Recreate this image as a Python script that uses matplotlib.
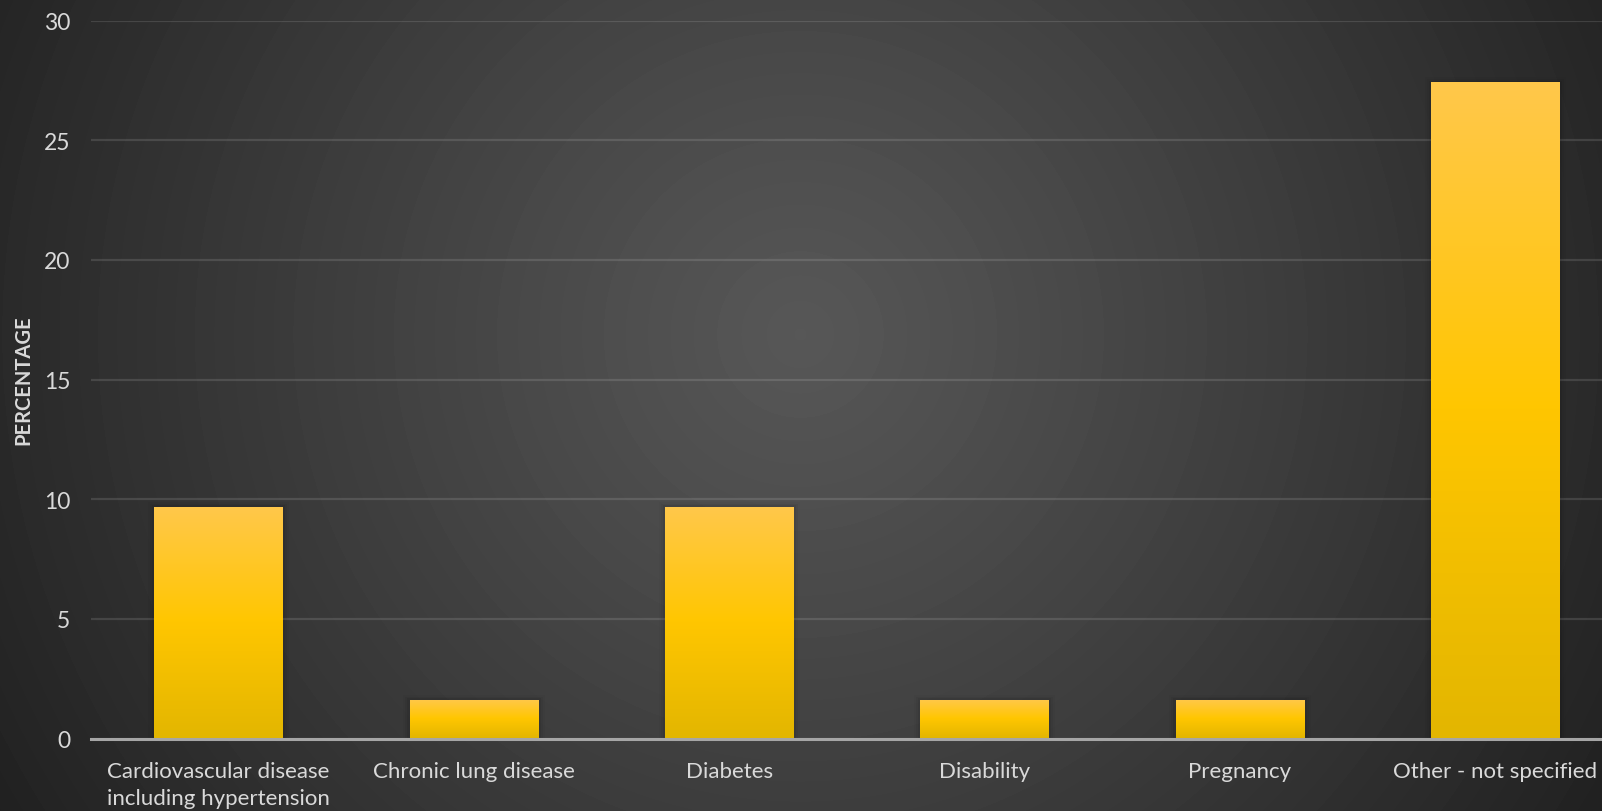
import numpy as np
import matplotlib.pyplot as plt
from matplotlib.colors import LinearSegmentedColormap

# ---------------------------- data ----------------------------
categories = ['Cardiovascular disease\nincluding hypertension', 'Chronic lung disease',
              'Diabetes', 'Disability', 'Pregnancy', 'Other - not specified']
percentages = [9.68, 1.61, 9.68, 1.61, 1.61, 27.42]
y_ticks = [0, 5, 10, 15, 20, 25, 30]

W, H, DPI = 1602, 812, 100
TXT = '#d9d9d9'
plt.rcParams['font.family'] = ['Lato', 'DejaVu Sans']

fig = plt.figure(figsize=(W / DPI, H / DPI), dpi=DPI)

# --------------------- radial background ----------------------
bg = fig.add_axes([0, 0, 1, 1])
yy, xx = np.mgrid[0:H, 0:W]
r = np.hypot(xx - 800, yy - 335) / 900.0
g = 0.342 - 0.205 * np.clip(r, 0, 1.2) ** 1.1
g = np.round(g * 255 / 1.2) * 1.2 / 255          # faint banding like the original
bg.imshow(np.dstack([g, g, g]), extent=[0, 1, 0, 1], aspect='auto', zorder=0)
bg.set_axis_off()

# --------------------------- chart ----------------------------
ax = fig.add_axes([91 / W, 1 - 739.5 / H, (1623 - 91) / W, (739.5 - 21.7) / H])
ax.patch.set_alpha(0)
x = np.arange(len(categories))
bars = ax.bar(x, percentages, width=0.505, color='#ffc600', zorder=3, linewidth=0)

cmap = LinearSegmentedColormap.from_list('gold', ['#e3b600', '#ffc600', '#ffc84b'])
grad = np.linspace(0, 1, 256).reshape(-1, 1)
for b in bars:
    bx, bw, bh = b.get_x(), b.get_width(), b.get_height()
    # soft shadow
    for k, a in enumerate([0.06, 0.04, 0.025]):
        ax.add_patch(plt.Rectangle((bx - 0.008 * (k + 1), 0), bw + 0.016 * (k + 1),
                                   bh + 0.07 * (k + 1), color='black', alpha=a,
                                   lw=0, zorder=2))
    im = ax.imshow(grad, extent=[bx, bx + bw, 0, bh], origin='lower', cmap=cmap,
                   aspect='auto', zorder=4)
    im.set_clip_path(b)

ax.set_xlim(-0.5, len(categories) - 0.5)
ax.set_ylim(0, 30)
ax.set_yticks(y_ticks)
ax.set_xticks(x)
ax.set_xticklabels(categories, color=TXT, fontsize=16, linespacing=1.4)
ax.tick_params(axis='y', colors=TXT, labelsize=16.5, length=0, pad=15)
ax.tick_params(axis='x', length=0, pad=16.5)
ax.grid(axis='y', color='white', alpha=0.12, linewidth=1.6, zorder=1)
for s in ['top', 'right', 'left']:
    ax.spines[s].set_visible(False)
ax.spines['bottom'].set_color('#a6a6a6')
ax.spines['bottom'].set_linewidth(2.2)
ax.spines['bottom'].set_zorder(5)

fig.text(23 / W, 1 - 380 / H, 'PERCENTAGE', rotation=90, color=TXT, fontsize=14.5,
         fontweight='bold', ha='center', va='center')

fig.savefig('out.png', dpi=DPI)
